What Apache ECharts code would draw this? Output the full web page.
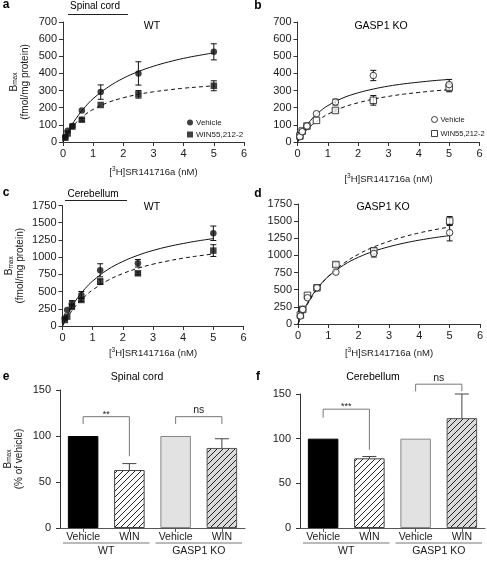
<!DOCTYPE html>
<html><head><meta charset="utf-8">
<script src="https://cdn.jsdelivr.net/npm/echarts@6/dist/echarts.min.js"></script>
<style>html,body{margin:0;padding:0;background:#fff}#c{width:487px;height:567px}</style>
</head><body><div id="c"></div>
<script>
// ---------- data ----------
const conc = [0.078, 0.156, 0.3125, 0.625, 1.25, 2.5, 5];
const fitX = [0, 0.25, 0.5, 0.75, 1, 1.5, 2, 2.5, 3, 3.5, 4, 4.5, 5];

// a: spinal cord WT
const aVehicle    = [29, 66, 93, 184, 291, 400, 526];
const aVehicleSem = [0, 0, 0, 0, 42, 68, 47];
const aWin        = [25, 50, 90, 130, 216, 278, 328];
const aWinSem     = [0, 0, 0, 8, 0, 22, 29];
const aVehicleFit = [0, 86, 154, 208, 253, 321, 372, 411, 442, 467, 488, 505, 520];
const aWinFit     = [0, 74, 125, 162, 190, 231, 258, 278, 293, 304, 314, 321, 328];
// b: spinal cord GASP1 KO
const bVehicle    = [31, 60, 93, 165, 233, 388, 335];
const bVehicleSem = [0, 0, 0, 0, 17, 30, 30];
const bWin        = [35, 64, 93, 126, 184, 243, 318];
const bWinSem     = [0, 0, 0, 0, 8, 28, 25];
const bVehicleFit = [0, 82, 139, 180, 212, 257, 287, 309, 326, 339, 349, 358, 365];
const bWinFit     = [0, 59, 103, 135, 162, 202, 229, 250, 266, 279, 289, 298, 305];
// c: cerebellum WT
const cVehicle    = [111, 233, 329, 451, 809, 911, 1347];
const cVehicleSem = [0, 0, 40, 50, 95, 55, 105];
const cWin        = [87, 136, 281, 378, 644, 765, 1095];
const cWinSem     = [0, 0, 30, 20, 40, 20, 85];
const cVehicleFit = [0, 232, 408, 543, 653, 819, 937, 1027, 1097, 1153, 1198, 1237, 1269];
const cWinFit     = [0, 183, 324, 433, 524, 662, 762, 838, 898, 945, 985, 1018, 1046];
// d: cerebellum GASP1 KO
const dVehicle    = [116, 213, 383, 528, 756, 1027, 1332];
const dVehicleSem = [0, 0, 0, 0, 0, 50, 120];
const dWin        = [131, 213, 417, 528, 867, 1066, 1502];
const dWinSem     = [0, 0, 0, 0, 30, 40, 65];
const dVehicleFit = [0, 253, 439, 581, 693, 858, 975, 1061, 1127, 1180, 1223, 1259, 1289];
const dWinFit     = [0, 239, 424, 573, 695, 882, 1019, 1124, 1206, 1273, 1329, 1375, 1415];

// e/f: bar charts (% of vehicle)
const barCats   = ['Vehicle', 'WIN', 'Vehicle', 'WIN'];
const groupNames = ['WT', 'GASP1 KO'];
const groupSpans = [[0, 1], [2, 3]];
const eBars = [100, 63, 100, 87];
const eErr  = [0, 7, 0, 10];
const fBars = [100, 78, 100, 123];
const fErr  = [0, 2, 0, 27];
// brackets: [cat0, cat1, foot0, top, foot1]
const eSig = [[0, 1, 113, 121, 78], [2, 3, 113, 121, 113]];
const eSigLabels = ['**', 'ns'];
const fSig = [[0, 1, 123.5, 133, 87.5], [2, 3, 153, 161, 153]];
const fSigLabels = ['***', 'ns'];

// ---------- styling ----------
const FONT = 'Liberation Sans, Arial, Helvetica, sans-serif';
const AX = '#333';
const TXT = '#1a1a1a';

function hatch(bg) {
  const c = document.createElement('canvas');
  c.width = 6; c.height = 6;
  const g = c.getContext('2d');
  g.fillStyle = bg; g.fillRect(0, 0, 6, 6);
  g.strokeStyle = '#222'; g.lineWidth = 1;
  g.beginPath();
  g.moveTo(0, 6); g.lineTo(6, 0);
  g.moveTo(-1, 1); g.lineTo(1, -1);
  g.moveTo(5, 7); g.lineTo(7, 5);
  g.stroke();
  return c;
}
const barStyles = [
  { color: '#000', borderColor: '#000', borderWidth: 1 },
  { color: { image: hatch('#fff'), repeat: 'repeat' }, borderColor: '#444', borderWidth: 1 },
  { color: '#e2e2e2', borderColor: '#888', borderWidth: 1 },
  { color: { image: hatch('#dadada'), repeat: 'repeat' }, borderColor: '#555', borderWidth: 1 }
];

const grids = [
  { left: 63, top: 22, width: 181, height: 120 },
  { left: 297.5, top: 22, width: 182, height: 120 },
  { left: 62.5, top: 205.5, width: 181, height: 120.5 },
  { left: 298, top: 204, width: 182, height: 120 },
  { left: 59, top: 390, width: 186, height: 138 },
  { left: 300, top: 394, width: 185, height: 134 }
];

const xName = '[{sup|3}H]SR141716a (nM)';
const xNameStyle = { fontSize: 9.5, color: TXT, fontFamily: FONT, lineHeight: 12,
  rich: { sup: { fontSize: 6.5, lineHeight: 7, verticalAlign: 'top', color: TXT, fontFamily: FONT } } };
function yNameStyle() {
  return { color: TXT, fontFamily: FONT, align: 'center',
    rich: {
      b: { fontSize: 10, lineHeight: 10, verticalAlign: 'top', color: TXT, fontFamily: FONT },
      s: { fontSize: 6.5, lineHeight: 7, padding: [5, 0, 0, 0], verticalAlign: 'bottom', color: TXT, fontFamily: FONT },
      t: { fontSize: 10, lineHeight: 12, color: TXT, fontFamily: FONT }
    } };
}
const plainNum = v => String(v);

function valX(gi, nameGap) {
  return { type: 'value', gridIndex: gi, min: 0, max: 6, interval: 1,
    splitLine: { show: false },
    axisLine: { lineStyle: { color: AX, width: 1 } },
    axisTick: { show: true, length: 4, lineStyle: { color: AX } },
    axisLabel: { fontSize: 11, color: TXT, fontFamily: FONT, margin: 6, formatter: plainNum },
    name: xName, nameLocation: 'middle', nameGap: nameGap, nameTextStyle: xNameStyle };
}
function valY(gi, max, interval, name, nameGap, margin) {
  const o = { type: 'value', gridIndex: gi, min: 0, max: max, interval: interval,
    splitLine: { show: false },
    axisLine: { show: true, lineStyle: { color: AX, width: 1 } },
    axisTick: { show: true, length: 4, lineStyle: { color: AX } },
    axisLabel: { fontSize: 11, color: TXT, fontFamily: FONT, margin: margin || 6, formatter: plainNum } };
  if (name) {
    o.name = name; o.nameLocation = 'middle'; o.nameGap = nameGap; o.nameTextStyle = yNameStyle();
  }
  return o;
}
function catX(gi) {
  return { type: 'category', gridIndex: gi, data: barCats.map((c, i) => c + '|' + i),
    axisLine: { lineStyle: { color: '#555', width: 1 } },
    axisTick: { show: true, alignWithLabel: true, length: 4, lineStyle: { color: '#555' } },
    axisLabel: { fontSize: 10.5, color: TXT, fontFamily: FONT, margin: 4, formatter: v => v.split('|')[0] } };
}

function errRender(params, api) {
  const e = api.value(2);
  if (!e) return null;
  const x = api.value(0), y = api.value(1);
  const t = api.coord([x, y + e]), b = api.coord([x, y - e]);
  const st = { stroke: '#111', lineWidth: 1 };
  return { type: 'group', children: [
    { type: 'line', shape: { x1: t[0], y1: t[1], x2: b[0], y2: b[1] }, style: st },
    { type: 'line', shape: { x1: t[0] - 3, y1: t[1], x2: t[0] + 3, y2: t[1] }, style: st },
    { type: 'line', shape: { x1: b[0] - 3, y1: b[1], x2: b[0] + 3, y2: b[1] }, style: st }
  ] };
}

const series = [];
function scatterPanel(gi, tag, veh, vehSem, win, winSem, vehFit, winFit, open) {
  series.push({ type: 'line', xAxisIndex: gi, yAxisIndex: gi, data: fitX.map((x, i) => [x, vehFit[i]]),
    symbol: 'none', smooth: 0.4, lineStyle: { color: '#111', width: 1 }, silent: true, z: 2 });
  series.push({ type: 'line', xAxisIndex: gi, yAxisIndex: gi, data: fitX.map((x, i) => [x, winFit[i]]),
    symbol: 'none', smooth: 0.4, lineStyle: { color: '#111', width: 1, type: [4, 3] }, silent: true, z: 2 });
  series.push({ type: 'custom', xAxisIndex: gi, yAxisIndex: gi, renderItem: errRender, silent: true, z: 3,
    data: conc.map((x, i) => [x, veh[i], vehSem[i]]) });
  series.push({ type: 'custom', xAxisIndex: gi, yAxisIndex: gi, renderItem: errRender, silent: true, z: 3,
    data: conc.map((x, i) => [x, win[i], winSem[i]]) });
  const fill = open ? { color: '#fff', borderColor: '#111', borderWidth: 1 } : { color: '#111', borderColor: '#111', borderWidth: 0 };
  series.push({ type: 'scatter', name: 'WIN55,212-2|' + tag, xAxisIndex: gi, yAxisIndex: gi, symbol: 'rect',
    symbolSize: 6.5, itemStyle: fill, z: 4, data: conc.map((x, i) => [x, win[i]]) });
  series.push({ type: 'scatter', name: 'Vehicle|' + tag, xAxisIndex: gi, yAxisIndex: gi, symbol: 'circle',
    symbolSize: 6.5, itemStyle: fill, z: 5, data: conc.map((x, i) => [x, veh[i]]) });
}
scatterPanel(0, 'a', aVehicle, aVehicleSem, aWin, aWinSem, aVehicleFit, aWinFit, false);
scatterPanel(1, 'b', bVehicle, bVehicleSem, bWin, bWinSem, bVehicleFit, bWinFit, true);
scatterPanel(2, 'c', cVehicle, cVehicleSem, cWin, cWinSem, cVehicleFit, cWinFit, false);
scatterPanel(3, 'd', dVehicle, dVehicleSem, dWin, dWinSem, dVehicleFit, dWinFit, true);

function barPanel(gi, vals, errs, sig, sigLabels) {
  series.push({ type: 'bar', xAxisIndex: gi, yAxisIndex: gi, barWidth: '66%', z: 2, silent: true,
    data: vals.map((v, i) => ({ value: v, itemStyle: barStyles[i] })) });
  series.push({ type: 'custom', xAxisIndex: gi, yAxisIndex: gi, silent: true, z: 4,
    data: vals.map((v, i) => [i, v, errs[i]]),
    renderItem: (p, api) => {
      const e = api.value(2); if (!e) return null;
      const i = api.value(0), v = api.value(1);
      const a = api.coord([i, v]), t = api.coord([i, v + e]);
      const st = { stroke: '#444', lineWidth: 1 };
      return { type: 'group', children: [
        { type: 'line', shape: { x1: a[0], y1: a[1], x2: t[0], y2: t[1] }, style: st },
        { type: 'line', shape: { x1: t[0] - 7, y1: t[1], x2: t[0] + 7, y2: t[1] }, style: st }
      ] };
    } });
  series.push({ type: 'custom', xAxisIndex: gi, yAxisIndex: gi, silent: true, z: 4, clip: false,
    data: sig,
    renderItem: (p, api) => {
      const i0 = api.value(0), i1 = api.value(1);
      const a = api.coord([i0, api.value(2)]), t0 = api.coord([i0, api.value(3)]),
            t1 = api.coord([i1, api.value(3)]), b = api.coord([i1, api.value(4)]);
      const lab = sigLabels[p.dataIndex];
      const star = lab.indexOf('*') >= 0;
      return { type: 'group', children: [
        { type: 'polyline', shape: { points: [a, t0, t1, b] }, style: { stroke: '#777', lineWidth: 1, fill: null } },
        { type: 'text', style: { text: lab, x: (t0[0] + t1[0]) / 2, y: star ? t0[1] - 2.5 : t0[1] - 1,
          align: 'center', verticalAlign: star ? 'middle' : 'bottom', fontSize: star ? 9 : 10.5,
          fontFamily: FONT, fill: TXT } }
      ] };
    } });
  series.push({ type: 'custom', xAxisIndex: gi, yAxisIndex: gi, silent: true, z: 4, clip: false,
    data: groupSpans,
    renderItem: (p, api) => {
      const p0 = api.coord([api.value(0), 0]), p1 = api.coord([api.value(1), 0]);
      const band = api.size([1, 0])[0];
      const y = p0[1] + 15;
      return { type: 'group', children: [
        { type: 'line', shape: { x1: p0[0] - band / 2 + 3, y1: y, x2: p1[0] + band / 2 - 3, y2: y },
          style: { stroke: '#777', lineWidth: 1 } },
        { type: 'text', style: { text: groupNames[p.dataIndex], x: (p0[0] + p1[0]) / 2, y: p0[1] + 23,
          align: 'center', verticalAlign: 'middle', fontSize: 10.5, fontFamily: FONT, fill: TXT } }
      ] };
    } });
}
barPanel(4, eBars, eErr, eSig, eSigLabels);
barPanel(5, fBars, fErr, fSig, fSigLabels);

function txt(text, x, y, size, bold, align) {
  return { type: 'text', style: { text: text, x: x, y: y, align: align || 'center', verticalAlign: 'middle',
    fontSize: size, fontWeight: bold ? 'bold' : 'normal', fontFamily: FONT, fill: '#000' } };
}
function hline(x1, x2, y) {
  return { type: 'line', shape: { x1: x1, y1: y, x2: x2, y2: y }, style: { stroke: '#222', lineWidth: 1 } };
}

function legendOf(left, top, tag, fontSize, gap) {
  return { orient: 'vertical', left: left, top: top, itemWidth: 6, itemHeight: 6, itemGap: gap,
    selectedMode: false, data: ['Vehicle|' + tag, 'WIN55,212-2|' + tag],
    itemStyle: { borderWidth: tag === 'b' ? 1 : 0 },
    textStyle: { fontSize: fontSize, color: TXT, fontFamily: FONT, lineHeight: 9, padding: [0, 0, 0, -2] },
    formatter: n => n.split('|')[0] };
}

const option = {
  animation: false,
  textStyle: { fontFamily: FONT },
  grid: grids,
  xAxis: [valX(0, 24), valX(1, 31), valX(2, 21), valX(3, 23), catX(4), catX(5)],
  yAxis: [
    valY(0, 700, 100, '{b|B}{s|max}\n{t|(fmol/mg protein)}', 32),
    valY(1, 700, 100),
    valY(2, 1750, 250, '{b|B}{s|max}\n{t|(fmol/mg protein)}', 36),
    valY(3, 1750, 250),
    valY(4, 150, 50, '{b|B}{s|max}\n{t|(% of vehicle)}', 35, 9),
    valY(5, 150, 50, null, 0, 9)
  ],
  legend: [ legendOf(182, 113, 'a', 8, 3), legendOf(426, 110, 'b', 7.5, 5) ],
  graphic: [
    txt('a', 6, 5, 12, true), txt('b', 258, 6, 12, true), txt('c', 6, 193, 12, true),
    txt('d', 258, 194, 12, true), txt('e', 6, 377, 12, true), txt('f', 258, 377, 12, true),
    txt('Spinal cord', 95, 6, 10), hline(68, 128, 14.5),
    txt('Cerebellum', 93, 194, 10), hline(65, 127, 200.5),
    txt('WT', 152, 26, 10.5), txt('GASP1 KO', 381, 26, 10.5),
    txt('WT', 152, 207, 10.5), txt('GASP1 KO', 383, 207, 10.5),
    txt('Spinal cord', 137, 377, 10.5), txt('Cerebellum', 373, 377, 10.5)
  ],
  series: series
};
echarts.init(document.getElementById('c'), null, { renderer: 'canvas' }).setOption(option);
</script>
</body></html>
